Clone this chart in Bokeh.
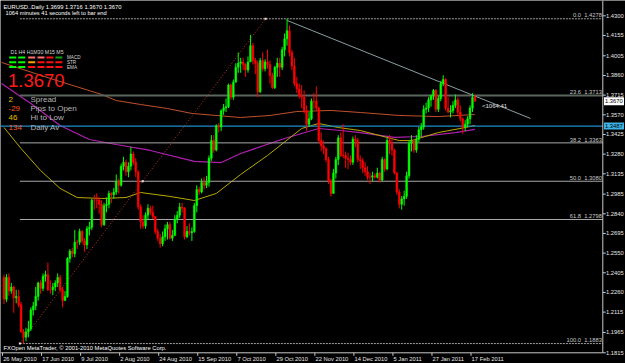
from bokeh.plotting import figure
from bokeh.models import Range1d, ColumnDataSource
from bokeh.core.properties import value
from bokeh.embed import file_html
from bokeh.resources import INLINE

# ---------------- data ----------------
symbol_title = "EURUSD..Daily"
bar_ohlc_text = ["1.3699", "1.3716", "1.3670", "1.3670"]
timer_text = "1064 minutes 41 seconds left to bar end"
timer_short = "<1064:41"
footer_text = "FXOpen MetaTrader, \u00a9 2001-2010 MetaQuotes Software Corp."

first_open = 1.2370
closes = [
    1.2210, 1.2370, 1.2270, 1.2300, 1.2220, 1.2230, 1.2170, 1.1970, 1.1930, 1.1970,
    1.1990, 1.2130, 1.2160, 1.2230, 1.2330, 1.2290, 1.2380, 1.2390, 1.2280, 1.2280,
    1.2300, 1.2330, 1.2370, 1.2280, 1.2200, 1.2230, 1.2510, 1.2565, 1.2545, 1.2630,
    1.2630, 1.2710, 1.2640, 1.2610, 1.2730, 1.2740, 1.2940, 1.2940, 1.2940, 1.2910,
    1.2760, 1.2900, 1.2910, 1.2990, 1.2980, 1.3000, 1.3080, 1.3050, 1.3190, 1.3220,
    1.3150, 1.3190, 1.3280, 1.3220, 1.3150, 1.2890, 1.2780, 1.2750, 1.2830, 1.2880,
    1.2850, 1.2820, 1.2710, 1.2660, 1.2620, 1.2670, 1.2730, 1.2760, 1.2660, 1.2680,
    1.2800, 1.2830, 1.2890, 1.2880, 1.2670, 1.2710, 1.2700, 1.2710, 1.2900, 1.3020,
    1.3000, 1.3070, 1.3050, 1.3070, 1.3250, 1.3380, 1.3310, 1.3490, 1.3480, 1.3600,
    1.3620, 1.3630, 1.3790, 1.3700, 1.3810, 1.3920, 1.3950, 1.3960, 1.3940, 1.3900,
    1.3960, 1.4080, 1.3970, 1.3950, 1.3740, 1.3970, 1.3910, 1.3960, 1.3940, 1.3860,
    1.3770, 1.3920, 1.3950, 1.3920, 1.4050, 1.4130, 1.4190, 1.4030, 1.3930, 1.3800,
    1.3760, 1.3710, 1.3700, 1.3600, 1.3500, 1.3540, 1.3670, 1.3670, 1.3620, 1.3380,
    1.3340, 1.3320, 1.3240, 1.3080, 1.2990, 1.3140, 1.3240, 1.3400, 1.3270, 1.3270,
    1.3250, 1.3240, 1.3220, 1.3390, 1.3380, 1.3240, 1.3230, 1.3180, 1.3150, 1.3110,
    1.3110, 1.3120, 1.3110, 1.3140, 1.3090, 1.3240, 1.3170, 1.3380, 1.3360, 1.3310,
    1.3140, 1.3000, 1.2910, 1.2950, 1.2970, 1.3120, 1.3360, 1.3380, 1.3310, 1.3390,
    1.3460, 1.3480, 1.3610, 1.3620, 1.3680, 1.3710, 1.3750, 1.3610, 1.3690, 1.3800,
    1.3830, 1.3620, 1.3590, 1.3600, 1.3640, 1.3680, 1.3590, 1.3540, 1.3480, 1.3500,
    1.3540, 1.3620, 1.3699, 1.3670,
]
highs = [
    1.2390, 1.2395, 1.2400, 1.2330, 1.2310, 1.2280, 1.2280, 1.2190, 1.1990, 1.2000,
    1.2050, 1.2150, 1.2190, 1.2300, 1.2340, 1.2350, 1.2400, 1.2420, 1.2480, 1.2350,
    1.2330, 1.2350, 1.2400, 1.2390, 1.2300, 1.2270, 1.2520, 1.2580, 1.2590, 1.2720,
    1.2650, 1.2730, 1.2720, 1.2660, 1.2750, 1.2780, 1.2950, 1.2980, 1.2990, 1.2960,
    1.2940, 1.2920, 1.2960, 1.3010, 1.3000, 1.3030, 1.3130, 1.3100, 1.3210, 1.3260,
    1.3240, 1.3220, 1.3333, 1.3300, 1.3250, 1.3160, 1.2910, 1.2830, 1.2850, 1.2910,
    1.2900, 1.2900, 1.2820, 1.2730, 1.2690, 1.2710, 1.2760, 1.2780, 1.2780, 1.2720,
    1.2830, 1.2860, 1.2920, 1.2920, 1.2890, 1.2750, 1.2770, 1.2740, 1.2920, 1.3050,
    1.3040, 1.3100, 1.3110, 1.3120, 1.3270, 1.3420, 1.3420, 1.3500, 1.3510, 1.3610,
    1.3650, 1.3690, 1.3800, 1.3800, 1.3830, 1.3950, 1.4030, 1.3990, 1.3990, 1.3950,
    1.4000, 1.4160, 1.4100, 1.3990, 1.3970, 1.3990, 1.4030, 1.3980, 1.4050, 1.3970,
    1.3880, 1.3930, 1.3990, 1.3990, 1.4070, 1.4170, 1.4278, 1.4230, 1.4050, 1.3990,
    1.3850, 1.3800, 1.3790, 1.3750, 1.3640, 1.3590, 1.3690, 1.3730, 1.3780, 1.3630,
    1.3440, 1.3380, 1.3330, 1.3260, 1.3100, 1.3170, 1.3260, 1.3420, 1.3440, 1.3500,
    1.3300, 1.3290, 1.3270, 1.3410, 1.3420, 1.3400, 1.3270, 1.3250, 1.3220, 1.3190,
    1.3140, 1.3150, 1.3140, 1.3180, 1.3150, 1.3260, 1.3250, 1.3400, 1.3420, 1.3400,
    1.3320, 1.3150, 1.3020, 1.2970, 1.3010, 1.3150, 1.3380, 1.3420, 1.3390, 1.3420,
    1.3480, 1.3510, 1.3640, 1.3660, 1.3700, 1.3720, 1.3760, 1.3760, 1.3710, 1.3820,
    1.3862, 1.3840, 1.3700, 1.3640, 1.3670, 1.3720, 1.3700, 1.3640, 1.3550, 1.3530,
    1.3560, 1.3640, 1.3730, 1.3716,
]
lows = [
    1.2175, 1.2190, 1.2235, 1.2250, 1.2110, 1.2180, 1.2150, 1.1960, 1.1883, 1.1900,
    1.1930, 1.1975, 1.2090, 1.2130, 1.2200, 1.2250, 1.2270, 1.2340, 1.2270, 1.2250,
    1.2240, 1.2270, 1.2300, 1.2260, 1.2150, 1.2200, 1.2220, 1.2480, 1.2520, 1.2520,
    1.2580, 1.2610, 1.2620, 1.2560, 1.2580, 1.2680, 1.2720, 1.2870, 1.2880, 1.2840,
    1.2740, 1.2750, 1.2850, 1.2880, 1.2920, 1.2950, 1.2980, 1.2990, 1.3040, 1.3160,
    1.3120, 1.3110, 1.3160, 1.3200, 1.3110, 1.2870, 1.2730, 1.2730, 1.2730, 1.2800,
    1.2830, 1.2800, 1.2690, 1.2640, 1.2590, 1.2600, 1.2640, 1.2650, 1.2650, 1.2640,
    1.2680, 1.2770, 1.2810, 1.2850, 1.2650, 1.2660, 1.2680, 1.2640, 1.2700, 1.2850,
    1.2980, 1.2990, 1.3020, 1.3030, 1.3040, 1.3230, 1.3290, 1.3300, 1.3440, 1.3450,
    1.3570, 1.3590, 1.3620, 1.3680, 1.3680, 1.3810, 1.3880, 1.3880, 1.3900, 1.3850,
    1.3880, 1.3960, 1.3940, 1.3870, 1.3700, 1.3730, 1.3890, 1.3890, 1.3910, 1.3800,
    1.3760, 1.3760, 1.3850, 1.3850, 1.3900, 1.4000, 1.4080, 1.4000, 1.3900, 1.3780,
    1.3730, 1.3690, 1.3620, 1.3580, 1.3450, 1.3480, 1.3530, 1.3610, 1.3600, 1.3360,
    1.3300, 1.3280, 1.3220, 1.3060, 1.2968, 1.2990, 1.3100, 1.3200, 1.3260, 1.3250,
    1.3180, 1.3170, 1.3200, 1.3200, 1.3330, 1.3220, 1.3170, 1.3140, 1.3120, 1.3090,
    1.3060, 1.3080, 1.3100, 1.3100, 1.3070, 1.3080, 1.3150, 1.3160, 1.3280, 1.3270,
    1.3130, 1.2980, 1.2880, 1.2870, 1.2900, 1.2950, 1.3100, 1.3300, 1.3290, 1.3290,
    1.3370, 1.3410, 1.3460, 1.3580, 1.3590, 1.3630, 1.3680, 1.3590, 1.3590, 1.3670,
    1.3780, 1.3600, 1.3580, 1.3550, 1.3580, 1.3620, 1.3570, 1.3520, 1.3430, 1.3450,
    1.3480, 1.3500, 1.3590, 1.3670,
]
opens = [first_open] + closes[:-1]

# moving averages, read at sample bars
ma_slow_bars = [-1, 19, 40, 46, 56, 67, 77, 97, 109, 120, 134, 146, 162, 178, 193]
ma_slow_vals = [1.3956, 1.3838, 1.3720, 1.3675, 1.3646, 1.3616, 1.3580, 1.3550, 1.3565,
                1.3594, 1.3602, 1.3587, 1.3565, 1.3557, 1.3572]
ma_mid_bars = [-1, 11, 23, 35, 46, 60, 78, 89, 97, 115, 129, 138, 146, 160, 171, 185, 193]
ma_mid_vals = [1.3801, 1.3653, 1.3491, 1.3388, 1.3351, 1.3307, 1.3226, 1.3218, 1.3285,
               1.3395, 1.3469, 1.3454, 1.3439, 1.3403, 1.3410, 1.3439, 1.3462]
ma_fast_bars = [0, 7, 15, 23, 30, 40, 50, 56, 68, 78, 87, 97, 108, 122, 129, 137, 146,
                162, 167, 178, 189, 193]
ma_fast_vals = [1.3476, 1.3321, 1.3159, 1.3027, 1.2960, 1.2953, 1.2960, 1.2997, 1.2968,
                1.2938, 1.2990, 1.3130, 1.3270, 1.3469, 1.3506, 1.3476, 1.3454, 1.3380,
                1.3380, 1.3439, 1.3476, 1.3491]

# Fibonacci retracement object
fib_anchor_bars = [6.5, 107.2]
fib_anchor_prices = [1.1883, 1.4278]
fib_pct = ["0.0", "23.6", "38.2", "50.0", "61.8", "100.0"]
fib_prices = [1.4278, 1.3713, 1.3363, 1.3080, 1.2798, 1.1883]

# trend line and horizontal line
trend_bars = [116.1, 215.8]
trend_prices = [1.4265, 1.3543]
hline_price = 1.3487
hline_label = "1.3487"
current_price = 1.3670
current_label = "1.3670"

# axes
price_ticks = [1.4300, 1.4155, 1.4005, 1.3860, 1.3715, 1.3570, 1.3425, 1.3280, 1.3135,
               1.2985, 1.2840, 1.2695, 1.2550, 1.2405, 1.2260, 1.2115, 1.1965, 1.1815]
price_tick_labels = ["1.4300", "1.4155", "1.4005", "1.3860", "1.3715", "1.3570", "1.3425",
                     "1.3280", "1.3135", "1.2985", "1.2840", "1.2695", "1.2550", "1.2405",
                     "1.2260", "1.2115", "1.1965", "1.1815"]
date_tick_bars = [0, 16, 32, 48, 64, 80, 96, 112, 128, 144, 160, 176, 192]
date_labels = ["26 May 2010", "17 Jun 2010", "9 Jul 2010", "2 Aug 2010", "24 Aug 2010",
               "15 Sep 2010", "7 Oct 2010", "29 Oct 2010", "22 Nov 2010", "14 Dec 2010",
               "5 Jan 2011", "27 Jan 2011", "17 Feb 2011"]

# info panel
panel_timeframes = "D1 H4 H1M30 M15 M5"
panel_rows = ["MACD", "STR", "EMA"]
panel_colors = [
    ["#00ff00", "#00ff00", "#ff7070", "#ff7070", "#ff1010", "#10a010"],
    ["#00ff00", "#00ff00", "#ffa000", "#ff1010", "#ff1010", "#ff1010"],
    ["#00ff00", "#00ff00", "#ff1010", "#ff1010", "#ff1010", "#ff1010"],
]
info_values = ["2", "-29", "46", "134"]
info_value_colors = ["#e8c000", "#ff5a1e", "#e8c000", "#ff5a1e"]
info_names = ["Spread", "Pips to Open", "Hi to Low", "Daily Av"]
big_price = "1.3670"

# ---------------- layout ----------------
W, H = 625, 363
BAR_PX = 2.44
BAR0_PX = 3.5
PRICE_TOP = 1.4300
PRICE_TOP_PX = 15.3
PRICE_PER_PX = 0.0007374

x_start = -BAR0_PX / BAR_PX
x_end = (W - BAR0_PX) / BAR_PX
y_end = PRICE_TOP + PRICE_TOP_PX * PRICE_PER_PX
y_start = PRICE_TOP - (H - PRICE_TOP_PX) * PRICE_PER_PX


def px(xp):
    return x_start + xp / BAR_PX


def py(yp):
    return y_end - yp * PRICE_PER_PX


DX = 1.0 / BAR_PX
DY = PRICE_PER_PX
FONT = value("Liberation Sans")
AXIS_RIGHT = 602.3
AXIS_BOTTOM = 352.3
GRAY = "#c8c8c8"

p = figure(width=W, height=H, x_range=Range1d(x_start, x_end),
           y_range=Range1d(y_start, y_end), output_backend="svg",
           toolbar_location=None, x_axis_type=None, y_axis_type=None,
           min_border=0, background_fill_color="black", border_fill_color="black",
           outline_line_color=None)

# moving averages
p.line(ma_slow_bars, ma_slow_vals, line_color="#c0502c", line_width=1)
p.line(ma_mid_bars, ma_mid_vals, line_color="#b020b0", line_width=1.2)
p.line(ma_fast_bars, ma_fast_vals, line_color="#b8a800", line_width=1)

# fib lines
fib_styles = [("#a0a0a0", 1, "2 1"), ("#5a665e", 2, "solid"), ("#a8a8a8", 1, "solid"),
              ("#a8a8a8", 1, "solid"), ("#a8a8a8", 1, "solid"), ("#a0a0a0", 1, "2 1")]
for lvl, (c, w, d) in zip(fib_prices, fib_styles):
    p.segment(x0=[fib_anchor_bars[0]], y0=[lvl], x1=[px(AXIS_RIGHT)], y1=[lvl],
              line_color=c, line_width=w, line_dash=d)
p.text(x=[px(580.5)] * len(fib_prices), y=[v + 1.3 * DY for v in fib_prices], text=fib_pct,
       text_font=FONT, text_font_size="5.8px", text_color="#c8c8c8",
       text_align="right", text_baseline="bottom")
p.text(x=[px(601.5)] * len(fib_prices), y=[v + 1.3 * DY for v in fib_prices],
       text=["%.4f" % v for v in fib_prices],
       text_font=FONT, text_font_size="5.8px", text_color="#c8c8c8",
       text_align="right", text_baseline="bottom")

# blue horizontal line
p.segment(x0=[x_start], y0=[hline_price], x1=[px(AXIS_RIGHT)], y1=[hline_price],
          line_color="#1e8cc8", line_width=1.2)

# fib diagonal
p.line(fib_anchor_bars, fib_anchor_prices, line_color="#c03a22", line_width=1,
       line_dash="1 2")

# trend line
p.line(trend_bars, trend_prices, line_color="#8a9ea2", line_width=1)

# candles
n = len(closes)
bars = list(range(n))
cols = ["#00ff00" if c > o else "#ff0000" for o, c in zip(opens, closes)]
src = ColumnDataSource(dict(x=bars, o=opens, c=closes, h=highs, l=lows, col=cols))
p.segment(x0="x", y0="l", x1="x", y1="h", line_color="col", line_width=1, source=src)
p.vbar(x="x", top="o", bottom="c", width=0.72, fill_color="col", line_color="col",
       line_width=0.5, source=src)

# anchor markers
mid_bar = (fib_anchor_bars[0] + fib_anchor_bars[1]) / 2
mid_price = (fib_anchor_prices[0] + fib_anchor_prices[1]) / 2
p.rect(x=fib_anchor_bars + [mid_bar], y=fib_anchor_prices + [mid_price],
       width=2 * DX, height=2 * DY, fill_color="#ffe0e0", line_color=None)

# frame / axes
p.segment(x0=[px(AXIS_RIGHT)], y0=[y_end], x1=[px(AXIS_RIGHT)], y1=[py(AXIS_BOTTOM)],
          line_color=GRAY, line_width=1)
p.segment(x0=[x_start], y0=[py(AXIS_BOTTOM)], x1=[px(AXIS_RIGHT)], y1=[py(AXIS_BOTTOM)],
          line_color=GRAY, line_width=1)
p.segment(x0=[px(AXIS_RIGHT)] * len(price_ticks), y0=price_ticks,
          x1=[px(AXIS_RIGHT + 3)] * len(price_ticks), y1=price_ticks,
          line_color=GRAY, line_width=1)
p.text(x=[px(605.5)] * len(price_ticks), y=price_ticks, text=price_tick_labels,
       text_font=FONT, text_font_size="5.8px", text_color="#e6e6e6",
       text_align="left", text_baseline="middle")

date_x = [b - 0.6 for b in date_tick_bars]
p.segment(x0=date_x, y0=[py(AXIS_BOTTOM)] * len(date_x), x1=date_x,
          y1=[py(AXIS_BOTTOM + 3)] * len(date_x), line_color=GRAY, line_width=1)
p.text(x=[d + 0.6 * DX for d in date_x], y=[py(358.6)] * len(date_x), text=date_labels,
       text_font=FONT, text_font_size="5.8px", text_color="#e6e6e6",
       text_align="left", text_baseline="middle")

# price boxes on axis
p.rect(x=[px(613.5)], y=[current_price], width=20 * DX, height=8 * DY,
       fill_color="white", line_color=None)
p.text(x=[px(604.5)], y=[current_price], text=[current_label], text_font=FONT,
       text_font_size="5.8px", text_color="black", text_align="left",
       text_baseline="middle")
p.rect(x=[px(613.5)], y=[hline_price], width=20 * DX, height=7 * DY,
       fill_color="#3cb4e6", line_color=None)
p.text(x=[px(604.5)], y=[hline_price], text=[hline_label], text_font=FONT,
       text_font_size="5.8px", text_color="black", text_align="left",
       text_baseline="middle")

# timer near last bar
p.text(x=[px(481.5)], y=[py(105)], text=[timer_short], text_font=FONT,
       text_font_size="6px", text_color="#e0e0e0", text_align="left",
       text_baseline="middle")

# header
p.text(x=[px(3)], y=[py(6.3)], text=[symbol_title + "  " + " ".join(bar_ohlc_text)],
       text_font=FONT, text_font_size="5.8px", text_color="white",
       text_align="left", text_baseline="middle")
p.text(x=[px(5)], y=[py(12.7)], text=[timer_text], text_font=FONT,
       text_font_size="5.7px", text_color="white", text_align="left",
       text_baseline="middle")

# info panel
p.text(x=[px(10)], y=[py(51)], text=[panel_timeframes], text_font=FONT,
       text_font_size="5.2px", text_color="#d8d8d8", text_align="left",
       text_baseline="middle")
col_px = [12.2, 21.2, 31.2, 40.5, 49.4, 58.4]
row_px = [57.0, 61.7, 66.5]
rx, ry, rc = [], [], []
for r, ypix in enumerate(row_px):
    for k, xpix in enumerate(col_px):
        rx.append(px(xpix))
        ry.append(py(ypix))
        rc.append(panel_colors[r][k])
p.rect(x=rx, y=ry, width=7 * DX, height=2 * DY, fill_color=rc, line_color=None)
p.text(x=[px(66.5)] * 3, y=[py(v) for v in row_px], text=panel_rows, text_font=FONT,
       text_font_size="4.6px", text_color="#d8d8d8", text_align="left",
       text_baseline="middle")
p.text(x=[px(7.5)], y=[py(80)], text=[big_price], text_font=FONT,
       text_font_size="18.5px", text_color="#ff1a1a", text_align="left",
       text_baseline="middle")
info_y = [99.2, 108.3, 117.3, 126.6]
p.text(x=[px(8)] * 4, y=[py(v) for v in info_y], text=info_values, text_font=FONT,
       text_font_size="8px", text_color=info_value_colors, text_align="left",
       text_baseline="middle")
p.text(x=[px(30)] * 4, y=[py(v) for v in info_y], text=info_names, text_font=FONT,
       text_font_size="8px", text_color="#b4b4b4", text_align="left",
       text_baseline="middle")

# footer
p.text(x=[px(3)], y=[py(347.2)], text=[footer_text], text_font=FONT,
       text_font_size="5.8px", text_color="white", text_align="left",
       text_baseline="middle")

open("out.html", "w").write(file_html(p, INLINE))
